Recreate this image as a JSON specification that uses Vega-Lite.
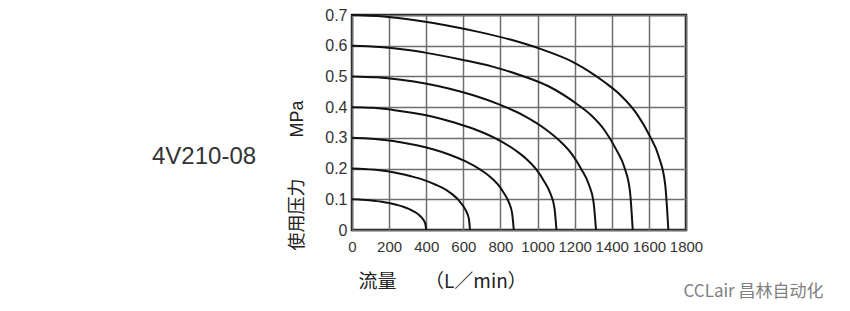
{
  "$schema": "https://vega.github.io/schema/vega-lite/v6.json",
  "width": 334,
  "height": 215,
  "autosize": {"type": "none"},
  "padding": {"left": 352, "top": 15, "right": 164, "bottom": 81},
  "background": "white",
  "config": {"view": {"stroke": "#1a1a1a", "strokeWidth": 2.5}},
  "title": {"text": "4V210-08", "anchor": "start", "frame": "group", "orient": "top", "offset": 0, "dx": -200, "dy": 181, "baseline": "alphabetic", "font": "Liberation Sans", "fontSize": 24, "fontWeight": "normal", "color": "#333333"},
  "data": {"values": [
    {"s": 0.1, "q": 0, "p": 0.1}, {"s": 0.1, "q": 40, "p": 0.099}, {"s": 0.1, "q": 80, "p": 0.098}, {"s": 0.1, "q": 120, "p": 0.095}, {"s": 0.1, "q": 160, "p": 0.092}, {"s": 0.1, "q": 200, "p": 0.088}, {"s": 0.1, "q": 240, "p": 0.082}, {"s": 0.1, "q": 280, "p": 0.075}, {"s": 0.1, "q": 320, "p": 0.065}, {"s": 0.1, "q": 340, "p": 0.058}, {"s": 0.1, "q": 360, "p": 0.05}, {"s": 0.1, "q": 376, "p": 0.04}, {"s": 0.1, "q": 388, "p": 0.03}, {"s": 0.1, "q": 396, "p": 0.018}, {"s": 0.1, "q": 400, "p": 0},
    {"s": 0.2, "q": 0, "p": 0.2}, {"s": 0.2, "q": 64, "p": 0.199}, {"s": 0.2, "q": 127, "p": 0.196}, {"s": 0.2, "q": 191, "p": 0.191}, {"s": 0.2, "q": 254, "p": 0.184}, {"s": 0.2, "q": 318, "p": 0.175}, {"s": 0.2, "q": 382, "p": 0.164}, {"s": 0.2, "q": 445, "p": 0.149}, {"s": 0.2, "q": 509, "p": 0.13}, {"s": 0.2, "q": 541, "p": 0.116}, {"s": 0.2, "q": 572, "p": 0.099}, {"s": 0.2, "q": 598, "p": 0.079}, {"s": 0.2, "q": 617, "p": 0.059}, {"s": 0.2, "q": 630, "p": 0.036}, {"s": 0.2, "q": 636, "p": 0},
    {"s": 0.3, "q": 0, "p": 0.3}, {"s": 0.3, "q": 87, "p": 0.298}, {"s": 0.3, "q": 174, "p": 0.293}, {"s": 0.3, "q": 262, "p": 0.286}, {"s": 0.3, "q": 349, "p": 0.276}, {"s": 0.3, "q": 436, "p": 0.263}, {"s": 0.3, "q": 523, "p": 0.246}, {"s": 0.3, "q": 610, "p": 0.224}, {"s": 0.3, "q": 698, "p": 0.194}, {"s": 0.3, "q": 741, "p": 0.175}, {"s": 0.3, "q": 785, "p": 0.149}, {"s": 0.3, "q": 820, "p": 0.119}, {"s": 0.3, "q": 846, "p": 0.089}, {"s": 0.3, "q": 863, "p": 0.054}, {"s": 0.3, "q": 872, "p": 0},
    {"s": 0.4, "q": 0, "p": 0.4}, {"s": 0.4, "q": 110, "p": 0.398}, {"s": 0.4, "q": 220, "p": 0.391}, {"s": 0.4, "q": 331, "p": 0.381}, {"s": 0.4, "q": 441, "p": 0.368}, {"s": 0.4, "q": 551, "p": 0.35}, {"s": 0.4, "q": 661, "p": 0.328}, {"s": 0.4, "q": 771, "p": 0.299}, {"s": 0.4, "q": 882, "p": 0.259}, {"s": 0.4, "q": 937, "p": 0.233}, {"s": 0.4, "q": 992, "p": 0.198}, {"s": 0.4, "q": 1036, "p": 0.158}, {"s": 0.4, "q": 1069, "p": 0.119}, {"s": 0.4, "q": 1091, "p": 0.072}, {"s": 0.4, "q": 1102, "p": 0},
    {"s": 0.5, "q": 0, "p": 0.5}, {"s": 0.5, "q": 132, "p": 0.497}, {"s": 0.5, "q": 263, "p": 0.489}, {"s": 0.5, "q": 395, "p": 0.477}, {"s": 0.5, "q": 526, "p": 0.46}, {"s": 0.5, "q": 658, "p": 0.438}, {"s": 0.5, "q": 789, "p": 0.41}, {"s": 0.5, "q": 921, "p": 0.374}, {"s": 0.5, "q": 1052, "p": 0.324}, {"s": 0.5, "q": 1118, "p": 0.291}, {"s": 0.5, "q": 1184, "p": 0.248}, {"s": 0.5, "q": 1236, "p": 0.198}, {"s": 0.5, "q": 1276, "p": 0.149}, {"s": 0.5, "q": 1302, "p": 0.09}, {"s": 0.5, "q": 1315, "p": 0},
    {"s": 0.6, "q": 0, "p": 0.6}, {"s": 0.6, "q": 151, "p": 0.596}, {"s": 0.6, "q": 303, "p": 0.586}, {"s": 0.6, "q": 454, "p": 0.571}, {"s": 0.6, "q": 605, "p": 0.553}, {"s": 0.6, "q": 757, "p": 0.532}, {"s": 0.6, "q": 908, "p": 0.504}, {"s": 0.6, "q": 1059, "p": 0.468}, {"s": 0.6, "q": 1210, "p": 0.411}, {"s": 0.6, "q": 1286, "p": 0.375}, {"s": 0.6, "q": 1362, "p": 0.324}, {"s": 0.6, "q": 1422, "p": 0.264}, {"s": 0.6, "q": 1468, "p": 0.204}, {"s": 0.6, "q": 1498, "p": 0.126}, {"s": 0.6, "q": 1513, "p": 0},
    {"s": 0.7, "q": 0, "p": 0.7}, {"s": 0.7, "q": 171, "p": 0.695}, {"s": 0.7, "q": 341, "p": 0.683}, {"s": 0.7, "q": 512, "p": 0.666}, {"s": 0.7, "q": 682, "p": 0.645}, {"s": 0.7, "q": 853, "p": 0.62}, {"s": 0.7, "q": 1023, "p": 0.588}, {"s": 0.7, "q": 1194, "p": 0.546}, {"s": 0.7, "q": 1364, "p": 0.48}, {"s": 0.7, "q": 1449, "p": 0.438}, {"s": 0.7, "q": 1535, "p": 0.378}, {"s": 0.7, "q": 1603, "p": 0.308}, {"s": 0.7, "q": 1654, "p": 0.238}, {"s": 0.7, "q": 1688, "p": 0.147}, {"s": 0.7, "q": 1705, "p": 0}
  ]},
  "encoding": {
    "x": {"field": "q", "type": "quantitative", "scale": {"domain": [0, 1800], "nice": false},
      "axis": {"values": [0, 200, 400, 600, 800, 1000, 1200, 1400, 1600, 1800], "format": "d", "labelFont": "Liberation Sans", "labelFontSize": 15, "labelColor": "#333333", "labelPadding": 9, "labelOverlap": false, "labelBound": false, "labelFlush": false, "ticks": false, "domain": false, "grid": true, "gridColor": "#6e6e6e", "gridWidth": 1.5, "gridOpacity": 1,
        "title": "流量\u3000\u3000（L／min）", "titleFont": "'Noto Sans CJK SC'", "titleFontSize": 19, "titleFontWeight": "normal", "titleColor": "#222222", "titleAlign": "left", "titleAnchor": "start", "titleBaseline": "alphabetic", "titleX": 6, "titleY": 57}},
    "detail": {"field": "s", "type": "nominal"},
    "order": {"field": "q", "type": "quantitative"}
  },
  "layer": [
    {
      "mark": {"type": "line", "interpolate": "monotone", "color": "#111111", "strokeWidth": 2},
      "encoding": {
        "y": {"field": "p", "type": "quantitative", "scale": {"domain": [0, 0.7], "nice": false},
          "axis": {"values": [0, 0.1, 0.2, 0.3, 0.4, 0.5, 0.6, 0.7], "labelExpr": "datum.value == 0 ? '0' : format(datum.value, '.1f')", "labelFont": "Liberation Sans", "labelFontSize": 16, "labelColor": "#333333", "labelPadding": 5, "labelOverlap": false, "labelFlush": false, "ticks": false, "domain": false, "grid": true, "gridColor": "#6e6e6e", "gridWidth": 1.5, "gridOpacity": 1,
            "title": "使用压力\u3000\u3000\u00a0MPa", "titleFont": "'Liberation Sans', 'Noto Sans CJK SC'", "titleFontSize": 18, "titleFontWeight": "normal", "titleColor": "#222222", "titleAngle": 270, "titleAlign": "center", "titleBaseline": "middle", "titleX": -55, "titleY": 160}}
      }
    },
    {
      "mark": {"type": "line", "opacity": 0},
      "encoding": {
        "y": {"field": "p", "type": "quantitative",
          "axis": {"orient": "right", "labels": false, "ticks": false, "domain": false, "grid": false,
            "title": "CCLair 昌林自动化", "titleFont": "'Noto Sans CJK SC'", "titleFontSize": 17, "titleFontWeight": "normal", "titleColor": "#808080", "titleAngle": 0, "titleAlign": "left", "titleBaseline": "alphabetic", "titleX": -3, "titleY": 281}}
      }
    }
  ],
  "resolve": {"axis": {"y": "independent"}}
}
